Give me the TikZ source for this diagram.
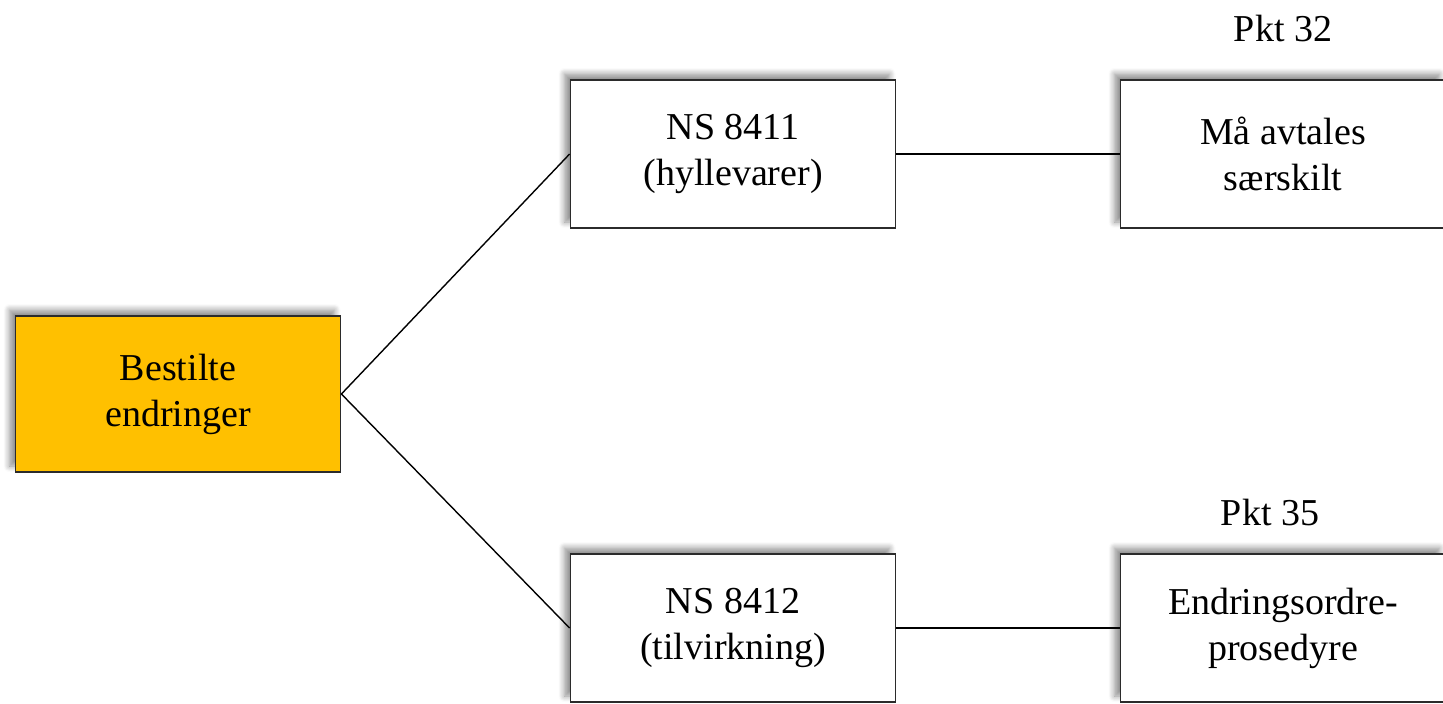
\documentclass[tikz,border=0pt]{standalone}
\usepackage{fontspec}
\setmainfont{Liberation Serif}
\usepackage{xcolor}
\usepackage{tikz}
\usetikzlibrary{shadows.blur}
\definecolor{edge}{HTML}{2B2B2B}
\definecolor{gold}{HTML}{FFC000}
\tikzset{
  box/.style={draw=edge, line width=0.9pt, fill=white, minimum width=162.5pt,
    minimum height=74pt, align=center, font=\fontsize{19}{23}\selectfont,
    blur shadow={shadow xshift=-3pt, shadow yshift=3pt, shadow blur radius=3pt,
      shadow blur steps=8, shadow opacity=45}},
  root/.style={box, fill=gold, minimum height=78pt},
  link/.style={draw=black, line width=0.7pt},
  lab/.style={font=\fontsize{19}{23}\selectfont},
}
\begin{document}
\begin{tikzpicture}[x=0.5pt,y=-0.5pt]
  \useasboundingbox (0,0) rectangle (1443,703);
  \node[root] (best) at (178,394) {Bestilte\\endringer};
  \node[box] (ns11) at (733,154) {NS 8411\\(hyllevarer)};
  \node[box] (ns12) at (733,628) {NS 8412\\(tilvirkning)};
  \node[box] (avt) at (1283,154) {Må avtales\\særskilt};
  \node[box] (eo) at (1283,628) {Endringsordre-\\prosedyre};
  \node[lab] (p32) at (1283,28) {Pkt 32};
  \node[lab] (p35) at (1270,512) {Pkt 35};
  \draw[link] (best.east) -- (ns11.west);
  \draw[link] (best.east) -- (ns12.west);
  \draw[link] (ns11.east) -- (avt.west);
  \draw[link] (ns12.east) -- (eo.west);
\end{tikzpicture}
\end{document}
